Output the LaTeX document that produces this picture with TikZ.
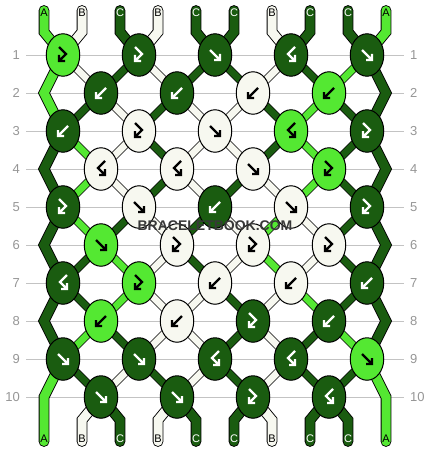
\documentclass[tikz,border=0pt]{standalone}
\usepackage{fontspec}
\setmainfont{Liberation Sans}
\usetikzlibrary{shapes.geometric, backgrounds}

\definecolor{colA}{RGB}{84,232,50}
\definecolor{colB}{RGB}{247,248,240}
\definecolor{colC}{RGB}{26,92,16}
\definecolor{rulegray}{RGB}{195,195,195}
\definecolor{numgray}{RGB}{150,150,150}

\tikzset{
  fk/.pic={\draw[glyph] (-5,-5) -- (5,5) (5,-1) -- (5,5) -- (-1,5);},
  bk/.pic={\draw[glyph] (5,-5) -- (-5,5) (-5,-1) -- (-5,5) -- (1,5);},
  fbk/.pic={\draw[glyph] (-4,-8) -- (3,-1) -- (-4,6) (-4,0) -- (-4,6) -- (2,6);},
  bfk/.pic={\draw[glyph] (4,-8) -- (-3,-1) -- (4,6) (4,0) -- (4,6) -- (-2,6);}
}

\begin{document}
\begin{tikzpicture}[x=1pt, y=-1pt]
  \tikzstyle{knot} = [draw, ellipse, line width=1pt, minimum width=33.5pt, minimum height=42.5pt, inner sep=0pt]
  \tikzstyle{thread} = [line width=0.8pt, double distance=6.8pt]
  \tikzstyle{cord} = [line width=0.9pt, double distance=9pt]
  \tikzstyle{glyph} = [line width=2.4pt]
  \tikzstyle{rownum} = [text=numgray, inner sep=0pt, font=\fontsize{13}{13}\selectfont]
  \tikzstyle{letter} = [inner sep=0pt, font=\fontsize{11}{11}\selectfont]
  \tikzstyle{inkA} = [black]
  \tikzstyle{inkB} = [black]
  \tikzstyle{inkC} = [white]

  \useasboundingbox (0,0) rectangle (430,452);

  % knots, row by row: colour/arrow
  \foreach \r/\y/\xo/\knots in {
    1/55/63/{A/fbk,C/fbk,C/fk,C/bfk,C/fk},
    2/93/101/{C/bk,C/bk,B/bk,A/bk},
    3/131/63/{C/bk,B/fbk,B/fk,A/bfk,C/fbk},
    4/169/101/{B/bfk,B/bfk,B/fk,A/fbk},
    5/207/63/{C/fbk,B/fk,C/bk,B/fk,C/fbk},
    6/245/101/{A/fk,B/fbk,B/fbk,B/fbk},
    7/283/63/{C/bfk,A/fbk,B/bk,B/bk,C/bk},
    8/321/101/{A/bk,B/bk,C/fbk,C/bk},
    9/359/63/{C/fk,C/fk,C/bfk,C/bfk,A/fk},
    10/397/101/{C/fk,C/fk,C/fbk,C/bfk}}
    \foreach \c/\g [count=\k] in \knots {
      \node[knot, fill=col\c] (k\r-\k) at (\xo+76*\k-76,\y) {};
      \pic[ink\c] at (k\r-\k) {\g};
    }

  % row numbers
  \foreach \r in {1,...,10} {
    \node[rownum, anchor=east] (nl\r) at (20,17+38*\r) {\r};
    \node[rownum, anchor=west] (nr\r) at (410,17+38*\r) {\r};
  }

  % string ends
  \foreach \c [count=\j from 0] in {A,B,C,B,C,C,B,C,C,A} {
    \node[letter, ink\c] (top\j) at (44+38*\j,13) {\c};
    \coordinate (te\j) at (44+38*\j,10.5);
    \node[letter, ink\c] (bot\j) at (44+38*\j,439) {\c};
    \coordinate (be\j) at (44+38*\j,441.5);
  }
  \foreach \r in {2,4,...,10} {
    \coordinate (el\r) at (44,17+38*\r);
    \coordinate (er\r) at (386,17+38*\r);
  }

  \begin{scope}[on background layer]
    \fill[white] (0,0) rectangle (430,452);
    \foreach \r in {1,...,10}
      \draw[rulegray] ([xshift=6pt]nl\r.east) -- ([xshift=-6pt]nr\r.west);

    % threads into row 1
    \foreach \c [count=\j from 0] in {A,B,C,B,C,C,B,C,C,A} {
      \pgfmathtruncatemacro\k{\j/2+1}
      \draw[cord, line cap=round, double=col\c] (te\j) -- ++(0,21.5) -- (k1-\k.center);
    }

    % threads round each knot of the even rows: up-left/up-right/down-left/down-right
    \foreach \e/\codes in {
      2/{B/C/C/B,B/C/C/B,C/B/B/C,C/A/A/C},
      4/{A/B/A/B,C/B/C/B,B/C/C/B,A/C/A/C},
      6/{A/C/C/A,B/C/B/C,B/A/B/A,B/C/B/C},
      8/{C/A/A/C,B/B/B/B,C/B/C/B,A/C/C/A},
      10/{C/B/C/B,C/B/C/B,C/B/C/B,C/C/C/C}}
      \foreach \ul/\ur/\dl/\dr [count=\k] in \codes {
        \pgfmathtruncatemacro\u{\e-1}
        \pgfmathtruncatemacro\d{\e+1}
        \pgfmathtruncatemacro\kk{\k+1}
        \draw[thread, double=col\ul] (k\u-\k.center) -- (k\e-\k.center);
        \draw[thread, double=col\ur] (k\u-\kk.center) -- (k\e-\k.center);
        \ifnum\e<10
          \draw[thread, double=col\dl] (k\e-\k.center) -- (k\d-\k.center);
          \draw[thread, double=col\dr] (k\e-\k.center) -- (k\d-\kk.center);
        \fi
      }

    % outer threads
    \foreach \a/\m/\b/\cl/\cr in {1/2/3/A/C,3/4/5/C/C,5/6/7/C/C,7/8/9/C/C} {
      \draw[cord, double=col\cl] (k\a-1.center) -- (el\m) -- (k\b-1.center);
      \draw[cord, double=col\cr] (k\a-5.center) -- (er\m) -- (k\b-5.center);
    }

    % threads out of the last rows
    \draw[cord, line cap=round, double=colA] (k9-1.center) -- (el10) -- (be0);
    \draw[cord, line cap=round, double=colA] (k9-5.center) -- (er10) -- (be9);
    \foreach \c [count=\j] in {B,C,B,C,C,B,C,C} {
      \pgfmathtruncatemacro\k{(\j+1)/2}
      \draw[cord, line cap=round, double=col\c] (k10-\k.center) -- ([yshift=21.5pt]be\j) -- (be\j);
    }
  \end{scope}

  \node[font=\fontsize{14}{14}\selectfont\bfseries, text=black!78] (logo) at (215,226) {BRACELETBOOK.COM};
\end{tikzpicture}
\end{document}
